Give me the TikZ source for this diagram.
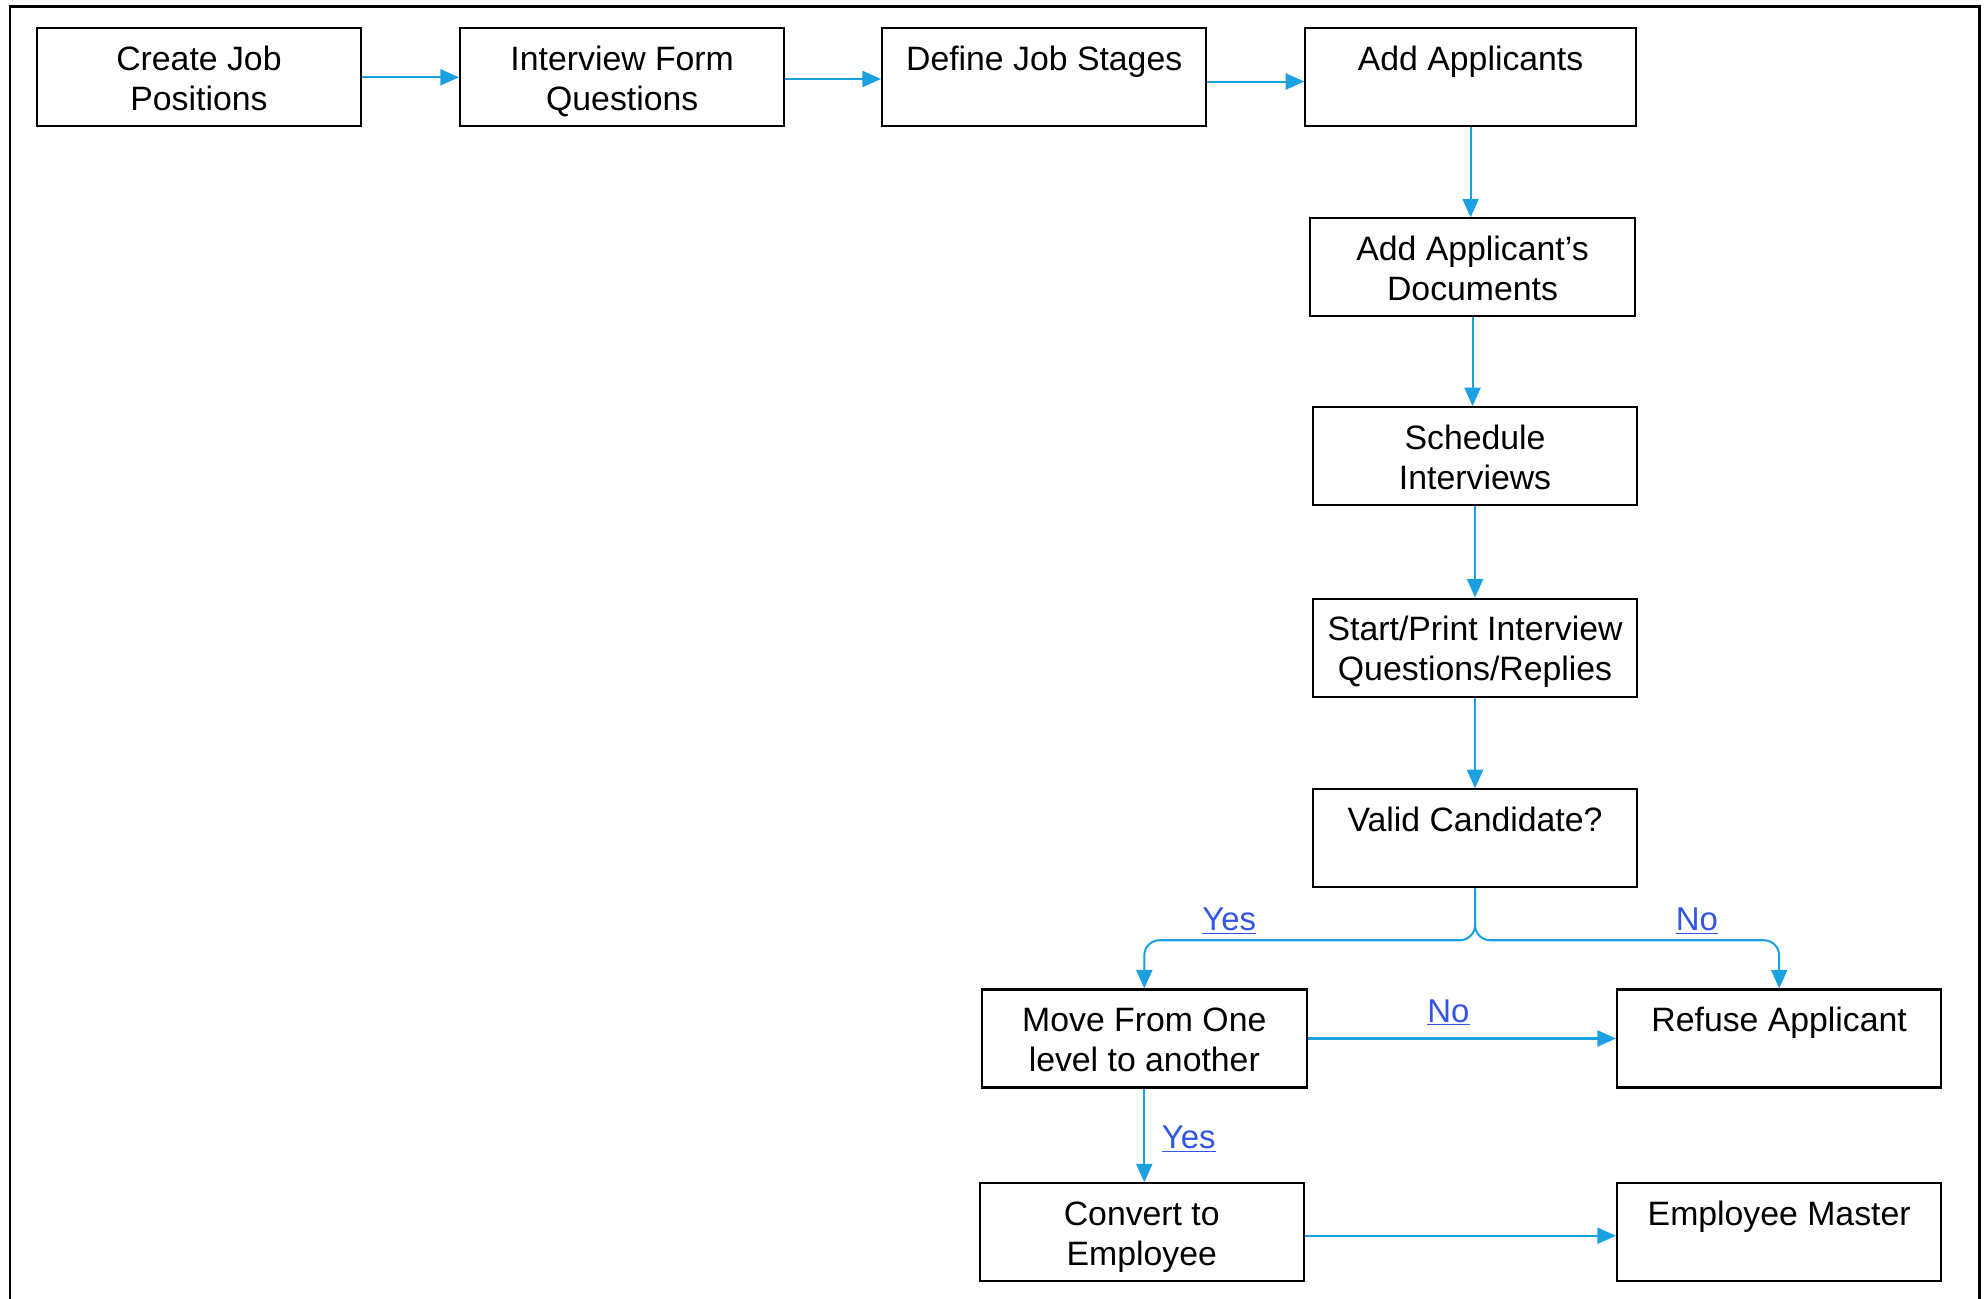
\documentclass[tikz,border=0pt]{standalone}
\usepackage{fontspec}
\setmainfont{Liberation Sans}
\usetikzlibrary{arrows.meta}

\definecolor{flowblue}{RGB}{27,161,226}
\definecolor{linkblue}{RGB}{51,85,230}
\newcommand{\lstrut}{\rule[-4pt]{0pt}{23.5pt}}

\tikzset{every picture/.style={line width=0.75pt}}
\tikzset{
  stepbox/.style={draw=black, line width=1.2pt, minimum width=192pt, minimum height=58pt, inner sep=0pt, align=center, font=\fontsize{20}{24}\selectfont},
  flow/.style={draw=flowblue, line width=1.2pt, -{Triangle[length=11pt,width=9.5pt]}},
  choice/.style={text=linkblue, inner sep=0.75pt, font=\fontsize{19.5}{23}\selectfont}
}

\begin{document}
\begin{tikzpicture}[x=0.75pt,y=0.75pt,yscale=-1,xscale=1]
\useasboundingbox (0,0) rectangle (1568,1025);

%Frame
\draw [line width=1.5pt]  (8,1040) -- (8,5) -- (1562,5) -- (1562,1040) ;

% Text Node
\draw (157,61) node [stepbox] (jobpos) {Create Job\lstrut\\Positions\lstrut};
% Text Node
\draw (491,61) node [stepbox] (formq) {Interview Form\lstrut\\Questions\lstrut};
% Text Node
\draw (824,61) node [stepbox] (stages) {Define Job Stages\lstrut\\\lstrut};
% Text Node
\draw (1160.5,61) node [stepbox, minimum width=195.75pt] (addapp) {Add Applicants\lstrut\\\lstrut};
% Text Node
\draw (1162,211) node [stepbox] (appdocs) {Add Applicant's\lstrut\\Documents\lstrut};
% Text Node
\draw (1164,360) node [stepbox] (sched) {Schedule\lstrut\\Interviews\lstrut};
% Text Node
\draw (1164,511) node [stepbox] (startq) {Start/Print Interview\lstrut\\Questions/Replies\lstrut};
% Text Node
\draw (1164,661.5) node [stepbox] (valid) {Valid Candidate?\lstrut\\\lstrut};
% Text Node
\draw (903,819.5) node [stepbox] (move) {Move From One\lstrut\\level to another\lstrut};
% Text Node
\draw (1404,819.5) node [stepbox] (refuse) {Refuse Applicant\lstrut\\\lstrut};
% Text Node
\draw (901,972.5) node [stepbox] (convert) {Convert to\lstrut\\Employee\lstrut};
% Text Node
\draw (1404,972.5) node [stepbox] (empmaster) {Employee Master\lstrut\\\lstrut};

%Top row arrows
\draw [flow]  (jobpos) -- (formq) ;
\draw [flow]  ([yshift=1pt]formq.east) -- ([yshift=1pt]stages.west) ;
\draw [flow]  ([yshift=2.5pt]stages.east) -- ([yshift=2.5pt]addapp.west) ;
%Column arrows
\draw [flow]  (addapp.south) -- (addapp.south |- appdocs.north) ;
\draw [flow]  (appdocs.south) -- (appdocs.south |- sched.north) ;
\draw [flow]  (sched) -- (startq) ;
\draw [flow]  (startq) -- (valid) ;
%Decision
\draw [flow, rounded corners=9pt]  (valid.south) -- ++(0,41) -| (move.north) ;
\draw [flow, rounded corners=9pt]  (valid.south) -- ++(0,41) -| (refuse.north) ;
\draw [flow]  (move) -- (refuse) ;
\draw [flow]  (move.south) -- (move.south |- convert.north) ;
\draw [flow]  ([yshift=2pt]convert.east) -- ([yshift=2pt]empmaster.west) ;

% Text Node
\draw (970,727) node [choice] (yesvalid) {\underline{Yes}};
% Text Node
\draw (1339,727) node [choice] (novalid) {\underline{No}};
% Text Node
\draw (1143,799) node [choice] (nomove) {\underline{No}};
% Text Node
\draw (938,899) node [choice] (yesmove) {\underline{Yes}};

\end{tikzpicture}
\end{document}
